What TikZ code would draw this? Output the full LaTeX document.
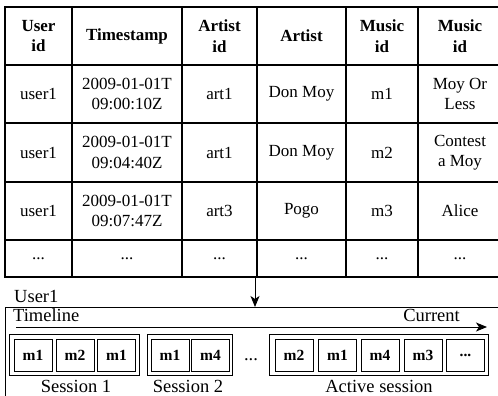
\documentclass[tikz,border=0pt]{standalone}
\usepackage{fontspec}
\setmainfont{Liberation Serif}
\usetikzlibrary{arrows.meta}
\begin{document}
\begin{tikzpicture}[x=1pt,y=-1pt,
  cell/.style={align=center,inner sep=0pt,font=\fontsize{17}{20.5}\selectfont},
  head/.style={cell,font=\fontsize{17}{20.5}\selectfont\bfseries},
  rule/.style={line width=1.3pt},
  frame/.style={line width=0.9pt},
  song/.style={draw,line width=0.8pt,minimum width=38pt,minimum height=32pt,
    inner sep=0pt,font=\fontsize{15.5}{18}\selectfont\bfseries},
  group/.style={draw,line width=0.8pt},
  label/.style={inner sep=0pt,font=\fontsize{18.5}{22}\selectfont},
  flow/.style={line width=1pt,-{Stealth[length=11pt,width=9pt,inset=3pt]}}]
\useasboundingbox (0,0) rectangle (498,396);
\clip (0,0) rectangle (498,396);

% ---- listening log table ----
\draw[rule] (5,7) rectangle (504,277);
\foreach \x in {72,182,257,346,418} \draw[rule] (\x,7) -- (\x,277);
\foreach \y in {65,123,182,240} \draw[rule] (5,\y) -- (504,\y);

% header row
\node[head] (h1) at (38.5,36) {User\\id};
\node[head] (h2) at (127,36) {Timestamp};
\node[head] (h3) at (219.5,36) {Artist\\id};
\node[head] (h4) at (301.5,36) {Artist};
\node[head] (h5) at (382,36) {Music\\id};
\node[head] (h6) at (460,36) {Music\\id};

% row 1
\node[cell] (a1) at (38.5,94) {user1};
\node[cell] (a2) at (127,94) {2009-01-01T\\09:00:10Z};
\node[cell] (a3) at (219.5,94) {art1};
\node[cell] (a4) at (301.5,94) {Don Moy};
\node[cell] (a5) at (382,94) {m1};
\node[cell] (a6) at (460,94) {Moy Or\\Less};

% row 2
\node[cell] (b1) at (38.5,152.5) {user1};
\node[cell] (b2) at (127,152.5) {2009-01-01T\\09:04:40Z};
\node[cell] (b3) at (219.5,152.5) {art1};
\node[cell] (b4) at (301.5,152.5) {Don Moy};
\node[cell] (b5) at (382,152.5) {m2};
\node[cell] (b6) at (460,152.5) {Contest\\a Moy};

% row 3
\node[cell] (c1) at (38.5,211) {user1};
\node[cell] (c2) at (127,211) {2009-01-01T\\09:07:47Z};
\node[cell] (c3) at (219.5,211) {art3};
\node[cell] (c4) at (301.5,211) {Pogo};
\node[cell] (c5) at (382,211) {m3};
\node[cell] (c6) at (460,211) {Alice};

% continuation row
\foreach \x/\n in {38.5/1,127/2,219.5/3,301.5/4,382/5,460/6}
  \node[cell] (d\n) at (\x,258.5) {...};

% ---- user timeline ----
\coordinate (tablefoot) at (255,277);
\coordinate (boxtop) at (255,307);
\draw[flow] (tablefoot) -- (boxtop);

\node[label,anchor=base west] (user) at (14,302) {User1};
\draw[frame] (5,307) rectangle (510,420);
\node[label,anchor=base west] (tl) at (13,321) {Timeline};
\node[label,anchor=base east] (cur) at (460,321) {Current};
\coordinate (tstart) at (16,327);
\coordinate (tend) at (487,327);
\draw[flow] (tstart) -- (tend);

% session 1
\node[song] (s11) at (33,355) {m1};
\node[song] (s12) at (75,355) {m2};
\node[song] (s13) at (116.5,355) {m1};
\draw[group] (9.5,334) rectangle (139,375.5);
\node[label] (l1) at (76,386) {Session 1};

% session 2
\node[song] (s21) at (170,355) {m1};
\node[song] (s22) at (210.5,355) {m4};
\draw[group] (147.5,334) rectangle (232.5,375.5);
\node[label] (l2) at (188,386) {Session 2};

\node[label,anchor=base] (gap) at (251,360) {...};

% active session
\node[song] (s31) at (294,355) {m2};
\node[song] (s32) at (337.5,355) {m1};
\node[song] (s33) at (380,355) {m4};
\node[song] (s34) at (423,355) {m3};
\node[song] (s35) at (465.5,355) {...};
\draw[group] (269,334) rectangle (488,375.5);
\node[label] (l3) at (379,386) {Active session};
\end{tikzpicture}
\end{document}
